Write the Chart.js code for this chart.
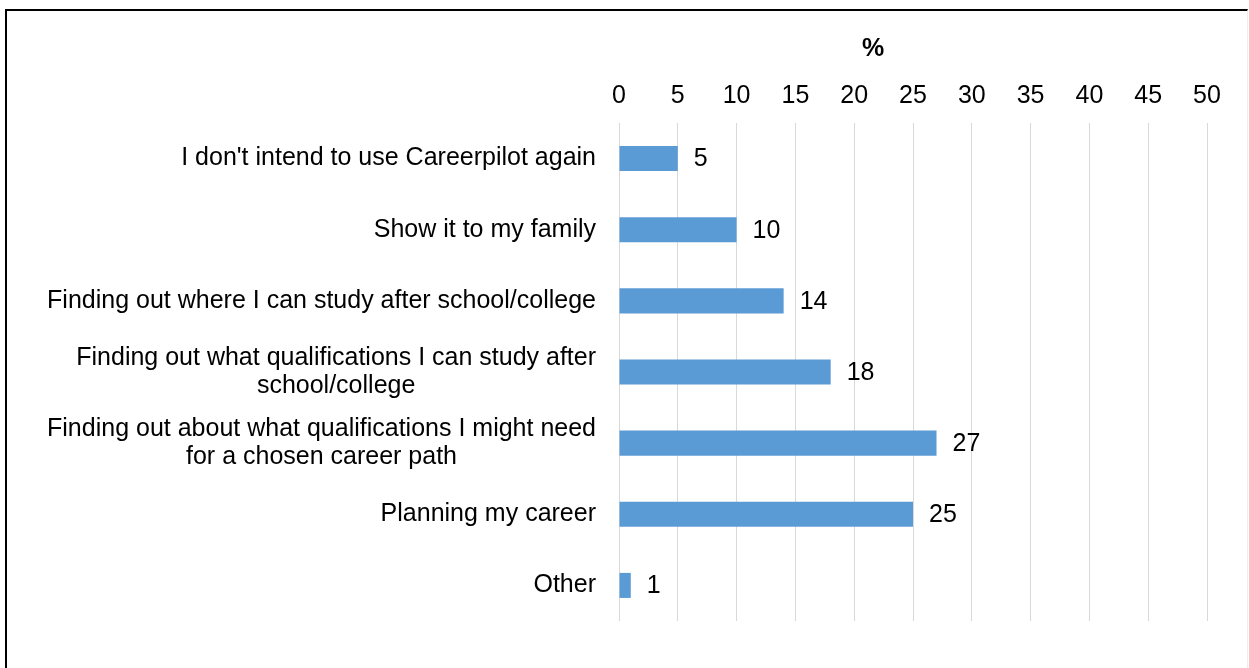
<!DOCTYPE html>
<html>
<head>
<meta charset="utf-8">
<title>Careerpilot use</title>
<script src="https://cdn.jsdelivr.net/npm/chart.js@4/dist/chart.umd.min.js"></script>
<style>
  html, body { margin: 0; padding: 0; background: #fff; overflow: hidden; }
  #wrap { position: relative; width: 1249px; height: 668px; }
  #frame {
    position: absolute; left: 5px; top: 9px; width: 1240px; height: 680px;
    border-top: 2px solid #000; border-left: 2px solid #000; border-right: 1px solid #eee;
    pointer-events: none;
  }
  canvas { position: absolute; left: 0; top: 0; }
</style>
</head>
<body>
<div id="wrap">
  <canvas id="chart" width="1249" height="668"></canvas>
  <div id="frame"></div>
</div>
<script>
(function () {
  'use strict';

  const categories = [
    ["I don't intend to use Careerpilot again"],
    ['Show it to my family'],
    ['Finding out where I can study after school/college'],
    ['Finding out what qualifications I can study after', 'school/college'],
    ['Finding out about what qualifications I might need', 'for a chosen career path'],
    ['Planning my career'],
    ['Other']
  ];
  const percentages = [5, 10, 14, 18, 27, 25, 1];
  const axisMax = 50;
  const axisStep = 5;
  const axisTitle = '%';

  const FONT = '"Liberation Sans", Arial, sans-serif';
  const SIZE = 25;

  // category names drawn by hand so wrapped lines can be centred on each other
  const categoryLabels = {
    id: 'categoryLabels',
    afterDraw(chart) {
      const ctx = chart.ctx;
      const y = chart.scales.y;
      const rightEdge = chart.chartArea.left - 23;
      const lineGap = 28;
      ctx.save();
      ctx.font = SIZE + 'px ' + FONT;
      ctx.fillStyle = '#000';
      ctx.textBaseline = 'middle';
      ctx.textAlign = 'center';
      categories.forEach((lines, i) => {
        const widest = Math.max(...lines.map(l => ctx.measureText(l).width));
        const cx = rightEdge - widest / 2;
        const cy = y.getPixelForValue(i);
        const startY = cy - (lines.length - 1) * lineGap / 2;
        lines.forEach((l, j) => ctx.fillText(l, cx, startY + j * lineGap));
      });

      // axis title sits left of the plot centre
      ctx.font = 'bold ' + SIZE + 'px ' + FONT;
      ctx.fillText(axisTitle, 873, 49);
      ctx.restore();
    }
  };

  // value printed just past the end of each bar
  const valueLabels = {
    id: 'valueLabels',
    afterDatasetsDraw(chart) {
      const ctx = chart.ctx;
      const meta = chart.getDatasetMeta(0);
      ctx.save();
      ctx.font = SIZE + 'px ' + FONT;
      ctx.fillStyle = '#000';
      ctx.textBaseline = 'middle';
      ctx.textAlign = 'left';
      meta.data.forEach((bar, i) => {
        ctx.fillText(String(percentages[i]), bar.x + 16, bar.y + 1);
      });
      ctx.restore();
    }
  };

  new Chart(document.getElementById('chart').getContext('2d'), {
    type: 'bar',
    data: {
      labels: categories.map(c => c.join(' ')),
      datasets: [{
        data: percentages,
        backgroundColor: '#5b9bd5',
        borderWidth: 0,
        categoryPercentage: 1,
        barPercentage: 0.352
      }]
    },
    options: {
      indexAxis: 'y',
      responsive: false,
      animation: false,
      layout: { padding: { left: 619, right: 42, top: 69, bottom: 47 } },
      plugins: {
        legend: { display: false },
        tooltip: { enabled: false }
      },
      scales: {
        x: {
          position: 'top',
          min: 0,
          max: axisMax,
          grid: { color: '#d9d9d9', lineWidth: 1, drawTicks: false },
          border: { display: false },
          ticks: {
            stepSize: axisStep,
            padding: 12,
            color: '#000',
            font: { family: FONT, size: SIZE }
          }
        },
        y: {
          display: false
        }
      }
    },
    plugins: [categoryLabels, valueLabels]
  });
})();
</script>
</body>
</html>
